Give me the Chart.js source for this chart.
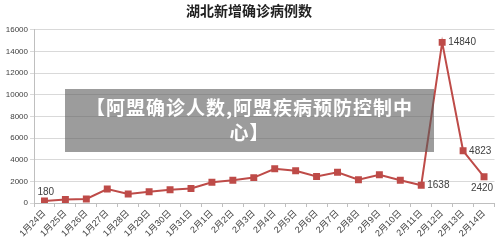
<!DOCTYPE html>
<html>
<head>
<meta charset="utf-8">
<script src="https://cdn.jsdelivr.net/npm/chart.js@4"></script>
<style>
  html, body { margin: 0; padding: 0; background: #fff; }
  #wrap { position: relative; width: 500px; height: 242px; }
  #banner {
    position: absolute; left: 65px; top: 89px; width: 369px; height: 63px;
    background: rgba(90, 90, 90, 0.6); color: #fff;
    font: bold 19px "Noto Sans CJK SC", sans-serif; line-height: 25px; letter-spacing: 1px;
    text-align: center; box-sizing: border-box; padding: 5px 16px 0 16px;
  }
</style>
</head>
<body>
<div id="wrap">
  <canvas id="weatherChart" width="500" height="242"></canvas>
  <div id="banner">【阿盟确诊人数,阿盟疾病预防控制中心】</div>
</div>
<script>
// Hubei daily new confirmed cases
const dates = ['1月24日', '1月25日', '1月26日', '1月27日', '1月28日', '1月29日', '1月30日', '1月31日',
  '2月1日', '2月2日', '2月3日', '2月4日', '2月5日', '2月6日', '2月7日', '2月8日', '2月9日', '2月10日',
  '2月11日', '2月12日', '2月13日', '2月14日'];
const newCases = [180, 323, 371, 1291, 840, 1032, 1220, 1347, 1921, 2103, 2345, 3156, 2987, 2447,
  2841, 2147, 2618, 2097, 1638, 14840, 4823, 2420];
const yTicks = [0, 2000, 4000, 6000, 8000, 10000, 12000, 14000, 16000];
// which points get a value label, and where it sits
const labelIndex = [0, 18, 19, 20, 21];
const labelSide = ['top', 'right', 'right', 'right', 'below'];

const lineColor = '#be4b48';
const font = '"Liberation Sans", "Noto Sans CJK SC", sans-serif';

const valueLabels = {
  id: 'valueLabels',
  afterDatasetsDraw(chart) {
    const ctx = chart.ctx;
    const meta = chart.getDatasetMeta(0);
    ctx.save();
    ctx.fillStyle = '#404040';
    ctx.font = '10px ' + font;
    labelIndex.forEach((i, k) => {
      const p = meta.data[i];
      const txt = String(newCases[i]);
      const side = labelSide[k];
      if (side === 'top') {
        ctx.textAlign = 'left'; ctx.textBaseline = 'bottom';
        ctx.fillText(txt, p.x - 7, p.y - 4);
      } else if (side === 'right') {
        ctx.textAlign = 'left'; ctx.textBaseline = 'middle';
        ctx.fillText(txt, p.x + 6, p.y);
      } else {
        ctx.textAlign = 'center'; ctx.textBaseline = 'top';
        ctx.fillText(txt, p.x - 2, p.y + 6);
      }
    });
    ctx.restore();
  }
};

const ctx = document.getElementById('weatherChart').getContext('2d');
new Chart(ctx, {
  type: 'line',
  data: {
    labels: dates,
    datasets: [{
      data: newCases,
      borderColor: lineColor,
      backgroundColor: lineColor,
      borderWidth: 2,
      pointStyle: 'rect',
      pointRadius: 3.5,
      pointHoverRadius: 3.5,
      tension: 0,
      fill: false
    }]
  },
  options: {
    responsive: false,
    animation: false,
    layout: { padding: { left: 2, right: 4, top: 0, bottom: 0 } },
    plugins: {
      legend: { display: false },
      tooltip: { enabled: false },
      title: {
        display: true,
        text: '湖北新增确诊病例数',
        color: '#222',
        font: { family: '"Noto Sans CJK SC", sans-serif', size: 14, weight: 'bold' },
        padding: { top: 2, bottom: 11 }
      }
    },
    scales: {
      x: {
        offset: true,
        grid: { offset: true, drawOnChartArea: false, drawTicks: true, tickLength: 4, color: '#bfbfbf' },
        border: { color: '#bfbfbf' },
        ticks: {
          minRotation: 45, maxRotation: 45, autoSkip: false,
          color: '#404040', font: { family: font, size: 9 }, padding: 1
        },
        afterFit(axis) { axis.height = 39; }
      },
      y: {
        min: 0, max: 16000,
        afterBuildTicks(axis) { axis.ticks = yTicks.map(v => ({ value: v })); },
        grid: { color: '#d9d9d9', drawTicks: true, tickLength: 4 },
        border: { color: '#bfbfbf' },
        ticks: {
          color: '#404040', font: { family: font, size: 8 }, padding: 2,
          callback: v => String(v)
        },
        afterFit(axis) { axis.width = 32; }
      }
    }
  },
  plugins: [valueLabels]
});
</script>
</body>
</html>
